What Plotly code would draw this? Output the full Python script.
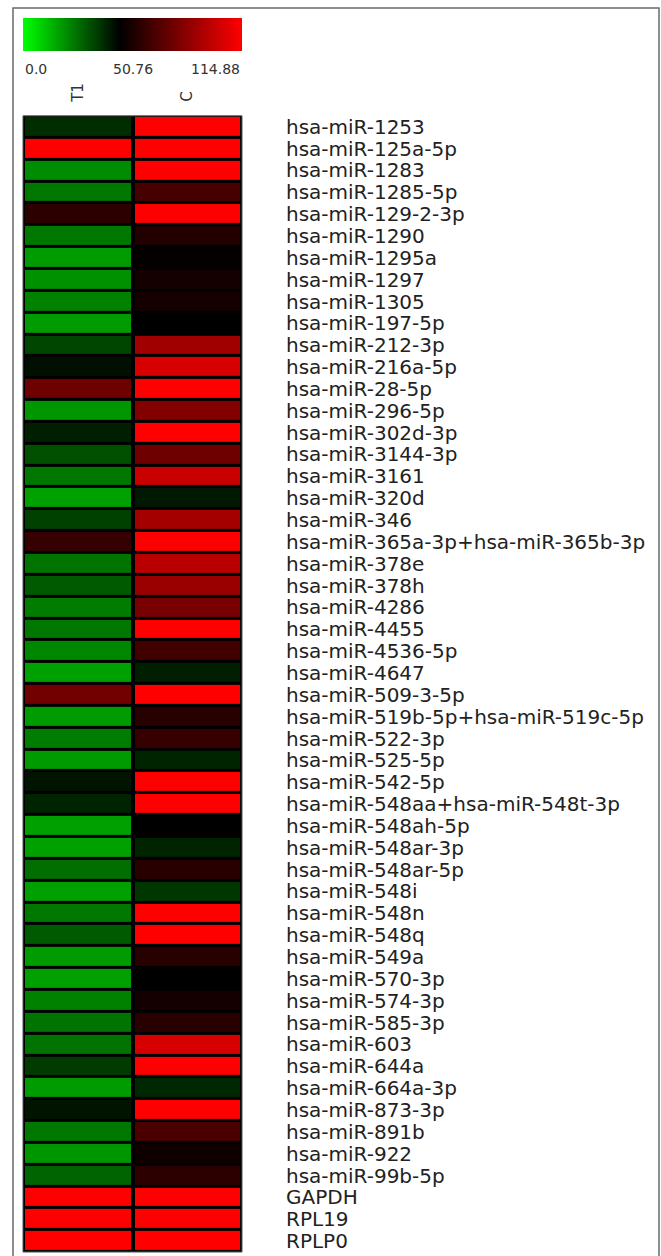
import plotly.graph_objects as go

W, H = 661, 1256

mirnas = [
    "hsa-miR-1253", "hsa-miR-125a-5p", "hsa-miR-1283", "hsa-miR-1285-5p", "hsa-miR-129-2-3p",
    "hsa-miR-1290", "hsa-miR-1295a", "hsa-miR-1297", "hsa-miR-1305", "hsa-miR-197-5p",
    "hsa-miR-212-3p", "hsa-miR-216a-5p", "hsa-miR-28-5p", "hsa-miR-296-5p", "hsa-miR-302d-3p",
    "hsa-miR-3144-3p", "hsa-miR-3161", "hsa-miR-320d", "hsa-miR-346",
    "hsa-miR-365a-3p+hsa-miR-365b-3p", "hsa-miR-378e", "hsa-miR-378h", "hsa-miR-4286",
    "hsa-miR-4455", "hsa-miR-4536-5p", "hsa-miR-4647", "hsa-miR-509-3-5p",
    "hsa-miR-519b-5p+hsa-miR-519c-5p", "hsa-miR-522-3p", "hsa-miR-525-5p", "hsa-miR-542-5p",
    "hsa-miR-548aa+hsa-miR-548t-3p", "hsa-miR-548ah-5p", "hsa-miR-548ar-3p", "hsa-miR-548ar-5p",
    "hsa-miR-548i", "hsa-miR-548n", "hsa-miR-548q", "hsa-miR-549a", "hsa-miR-570-3p",
    "hsa-miR-574-3p", "hsa-miR-585-3p", "hsa-miR-603", "hsa-miR-644a", "hsa-miR-664a-3p",
    "hsa-miR-873-3p", "hsa-miR-891b", "hsa-miR-922", "hsa-miR-99b-5p", "GAPDH", "RPL19", "RPLP0",
]

samples = ["T1", "C"]

t1_values = [
    41.8, 114.88, 22.9, 26.9, 62.1, 26.9, 19.9, 21.9, 24.9, 19.9,
    36.8, 47.8, 78.4, 20.9, 44.8, 34.8, 26.9, 18.9, 37.8, 64.6,
    27.9, 32.8, 25.9, 26.9, 23.9, 18.9, 79.7, 19.9, 25.9, 19.9,
    46.8, 43.8, 18.9, 18.9, 28.9, 18.9, 26.9, 32.8, 19.9, 18.9,
    24.9, 27.9, 27.9, 38.8, 19.9, 46.8, 26.9, 20.9, 30.9, 114.88,
    114.88, 114.88,
]

c_values = [
    114.88, 114.88, 114.88, 68.4, 114.88, 59.6, 52.0, 55.8, 55.8, 50.76,
    91.0, 104.8, 114.88, 83.4, 114.88, 78.4, 101.1, 45.8, 92.2, 114.88,
    97.3, 89.7, 81.0, 114.88, 67.1, 44.8, 114.88, 60.8, 64.6, 43.8,
    114.88, 114.88, 50.76, 43.8, 60.8, 39.8, 114.88, 114.88, 60.8, 50.76,
    55.8, 60.8, 104.8, 114.88, 42.8, 114.88, 69.6, 54.5, 62.1, 114.88,
    114.88, 114.88,
]

scale_min, scale_mid, scale_max = 0.0, 50.76, 114.88
scale_labels = ["0.0", "50.76", "114.88"]

# pixel layout (page coordinates)
hx0, hx1 = 23, 242
hy0, hy1 = 115, 1253


def px_x(p):
    return p / W


def px_y(p):
    return 1 - p / H


z = [[t, c] for t, c in zip(t1_values, c_values)]

fig = go.Figure()
fig.add_trace(go.Heatmap(
    z=z, x=samples, y=mirnas,
    zmin=scale_min, zmax=scale_max,
    colorscale=[[0, "rgb(0,255,0)"], [scale_mid / scale_max, "rgb(0,0,0)"], [1, "rgb(255,0,0)"]],
    xgap=4, ygap=3,
    colorbar=dict(
        orientation="h",
        x=px_x(hx0), xanchor="left",
        y=px_y(17), yanchor="top",
        len=hx1 - hx0, lenmode="pixels",
        thickness=33, thicknessmode="pixels",
        xpad=0, ypad=0, outlinewidth=0,
        showticklabels=False, ticks="",
    ),
    hovertemplate="%{y}<br>%{x}: %{z}<extra></extra>",
))

fig.update_layout(
    width=W, height=H,
    margin=dict(l=0, r=0, t=0, b=0),
    paper_bgcolor="white",
    plot_bgcolor="black",
    font=dict(family="DejaVu Sans", color="#222"),
    xaxis=dict(
        domain=[px_x(hx0), px_x(hx1)], side="top", tickangle=-90,
        tickmode="array", tickvals=samples, ticktext=samples,
        ticks="", ticklabelstandoff=13, showgrid=False, zeroline=False,
        tickfont=dict(size=15, color="#333"), fixedrange=True,
    ),
    yaxis=dict(
        domain=[px_y(hy1), px_y(hy0)], side="right", autorange="reversed",
        tickmode="array", tickvals=mirnas, ticktext=mirnas,
        ticks="", ticklabelstandoff=43, showgrid=False, zeroline=False,
        tickfont=dict(size=20, color="#222"), fixedrange=True,
    ),
    showlegend=False,
)

# frame and heatmap outline
fig.add_shape(type="rect", xref="paper", yref="paper",
              x0=px_x(13), x1=px_x(659), y0=px_y(1262), y1=px_y(7),
              line=dict(color="#6a6a6a", width=1.5), fillcolor="rgba(0,0,0,0)", layer="above")
fig.add_shape(type="rect", xref="paper", yref="paper",
              x0=px_x(hx0), x1=px_x(hx1), y0=px_y(hy1), y1=px_y(hy0),
              line=dict(color="#555", width=1), fillcolor="rgba(0,0,0,0)", layer="above")

# colour-scale labels
anchors = ["left", "center", "right"]
xs = [hx0, (hx0 + hx1) / 2, hx1]
for lab, xa, xp in zip(scale_labels, anchors, xs):
    fig.add_annotation(text=lab, x=px_x(xp), y=px_y(68), xref="paper", yref="paper",
                       xanchor=xa, yanchor="middle", showarrow=False,
                       font=dict(size=14, color="#333"))

# remove the default 8px page margin so the figure fills the window exactly
fig.write_html("out.html", config={"displayModeBar": False},
               post_script="document.body.style.margin='0';")
